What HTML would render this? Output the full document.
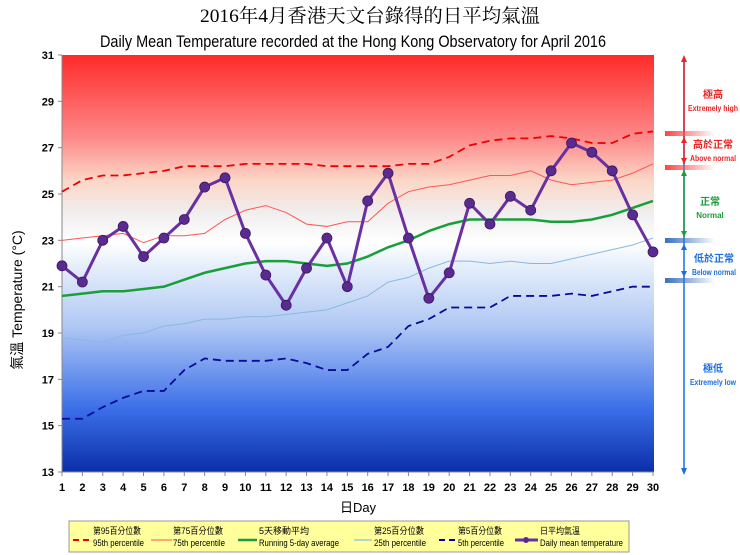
<!DOCTYPE html>
<html><head><meta charset="utf-8"><style>
body{margin:0;background:#fff;width:740px;height:555px;overflow:hidden}
svg{display:block;font-family:"Liberation Sans","Noto Sans CJK TC",sans-serif}
</style></head><body>
<svg id="chart" width="740" height="555">
<defs>
<linearGradient id="bg" x1="0" y1="0" x2="0" y2="1">
<stop offset="0" stop-color="#ff2a2a"/><stop offset="0.2" stop-color="#fd8a8a"/>
<stop offset="0.3" stop-color="#fbd6c6"/><stop offset="0.38" stop-color="#f0eeee"/>
<stop offset="0.45" stop-color="#ffffff"/><stop offset="0.5" stop-color="#e8f0fb"/>
<stop offset="0.65" stop-color="#b0c8f4"/><stop offset="0.85" stop-color="#3a6ee8"/>
<stop offset="1" stop-color="#0a2fa8"/></linearGradient>
<linearGradient id="rb" x1="0" x2="1"><stop offset="0" stop-color="#f44"/><stop offset="1" stop-color="#f44" stop-opacity="0"/></linearGradient>
<linearGradient id="bb" x1="0" x2="1"><stop offset="0" stop-color="#3a6fc0"/><stop offset="1" stop-color="#3a6fc0" stop-opacity="0"/></linearGradient>
</defs>
<text x="370" y="22" text-anchor="middle" font-size="19" textLength="340" lengthAdjust="spacingAndGlyphs" font-family="'Liberation Serif','Noto Serif CJK SC',serif">2016年4月香港天文台錄得的日平均氣溫</text>
<text x="353" y="47" text-anchor="middle" font-size="17" textLength="506" lengthAdjust="spacingAndGlyphs">Daily Mean Temperature recorded at the Hong Kong Observatory for April 2016</text>
<rect x="62" y="55" width="592" height="417" fill="url(#bg)"/>
<g id="axes"></g><g id="series"></g>
<text transform="translate(22,300) rotate(-90)" text-anchor="middle" font-size="14">氣溫 Temperature (°C)</text>
<text x="358" y="512" text-anchor="middle" font-size="13">日Day</text>
<g>
<line x1="684" y1="60" x2="684" y2="470" stroke="#1a6ee0" stroke-width="1.5"/>
<line x1="684" y1="60" x2="684" y2="133" stroke="#e22" stroke-width="1.5"/>
<line x1="684" y1="136" x2="684" y2="164" stroke="#e22" stroke-width="1.5"/>
<line x1="684" y1="170" x2="684" y2="237" stroke="#1a9e3a" stroke-width="1.5"/>
<polygon points="684,55 681,62 687,62" fill="#e22"/>
<polygon points="684,137 681,143 687,143" fill="#e22"/><polygon points="684,164 681,158 687,158" fill="#e22"/>
<polygon points="684,170 681,176 687,176" fill="#1a9e3a"/><polygon points="684,237 681,231 687,231" fill="#1a9e3a"/>
<polygon points="684,244 681,250 687,250" fill="#1a6ee0"/><polygon points="684,277 681,271 687,271" fill="#1a6ee0"/>
<polygon points="684,475 681,468 687,468" fill="#1a6ee0"/>
<rect x="665" y="131" width="50" height="5" fill="url(#rb)"/><rect x="665" y="165" width="50" height="5" fill="url(#rb)"/>
<rect x="665" y="238" width="50" height="5" fill="url(#bb)"/><rect x="665" y="278" width="50" height="5" fill="url(#bb)"/>
<g font-size="10" text-anchor="middle" font-weight="bold">
<text x="713" y="98" fill="#e22">極高</text><text x="713" y="111" fill="#e22" font-size="8" textLength="50" lengthAdjust="spacingAndGlyphs">Extremely high</text>
<text x="713" y="148" fill="#e22">高於正常</text><text x="713" y="161" fill="#e22" font-size="8" textLength="46" lengthAdjust="spacingAndGlyphs">Above normal</text>
<text x="710" y="205" fill="#1a9e3a">正常</text><text x="710" y="218" fill="#1a9e3a" font-size="8">Normal</text>
<text x="714" y="262" fill="#1a6ee0">低於正常</text><text x="714" y="275" fill="#1a6ee0" font-size="8" textLength="44" lengthAdjust="spacingAndGlyphs">Below normal</text>
<text x="713" y="372" fill="#1a6ee0">極低</text><text x="713" y="385" fill="#1a6ee0" font-size="8" textLength="46" lengthAdjust="spacingAndGlyphs">Extremely low</text>
</g></g>
<g>
<rect x="69" y="521" width="560" height="31" fill="#ffff9c" stroke="#999"/>
<g font-size="9" lengthAdjust="spacingAndGlyphs">
<line x1="73" x2="90" y1="540" y2="540" stroke="#e00" stroke-width="2" stroke-dasharray="6,4"/><text x="93" y="534" textLength="48" lengthAdjust="spacingAndGlyphs">第95百分位數</text><text x="93" y="546" textLength="51" lengthAdjust="spacingAndGlyphs">95th percentile</text>
<line x1="151" x2="172" y1="540" y2="540" stroke="#f55" stroke-width="1"/><text x="173" y="534" textLength="50" lengthAdjust="spacingAndGlyphs">第75百分位數</text><text x="173" y="546" textLength="52" lengthAdjust="spacingAndGlyphs">75th percentile</text>
<line x1="238" x2="257" y1="540" y2="540" stroke="#1a9e3a" stroke-width="2.5"/><text x="259" y="534" textLength="50" lengthAdjust="spacingAndGlyphs">5天移動平均</text><text x="259" y="546" textLength="80" lengthAdjust="spacingAndGlyphs">Running 5-day average</text>
<line x1="354" x2="372" y1="540" y2="540" stroke="#9cc" stroke-width="1.5"/><text x="374" y="534" textLength="50" lengthAdjust="spacingAndGlyphs">第25百分位數</text><text x="374" y="546" textLength="52" lengthAdjust="spacingAndGlyphs">25th percentile</text>
<line x1="439" x2="458" y1="540" y2="540" stroke="#00a" stroke-width="2" stroke-dasharray="6,4"/><text x="458" y="534" textLength="44" lengthAdjust="spacingAndGlyphs">第5百分位數</text><text x="458" y="546" textLength="46" lengthAdjust="spacingAndGlyphs">5th percentile</text>
<line x1="515" x2="538" y1="540" y2="540" stroke="#6a2fa0" stroke-width="3"/><circle cx="526" cy="540" r="3" fill="#5a2a90"/><text x="540" y="534" textLength="40" lengthAdjust="spacingAndGlyphs">日平均氣溫</text><text x="540" y="546" textLength="83" lengthAdjust="spacingAndGlyphs">Daily mean temperature</text>
</g></g>
<script>
const days=[1,2,3,4,5,6,7,8,9,10,11,12,13,14,15,16,17,18,19,20,21,22,23,24,25,26,27,28,29,30];
const yTicks=[13,15,17,19,21,23,25,27,29,31];
const dailyMean=[21.9,21.2,23.0,23.6,22.3,23.1,23.9,25.3,25.7,23.3,21.5,20.2,21.8,23.1,21.0,24.7,25.9,23.1,20.5,21.6,24.6,23.7,24.9,24.3,26.0,27.2,26.8,26.0,24.1,22.5];
const p95=[25.1,25.6,25.8,25.8,25.9,26.0,26.2,26.2,26.2,26.3,26.3,26.3,26.3,26.2,26.2,26.2,26.2,26.3,26.3,26.6,27.1,27.3,27.4,27.4,27.5,27.4,27.2,27.2,27.6,27.7];
const p75=[23.0,23.1,23.2,23.3,22.9,23.2,23.2,23.3,23.9,24.3,24.5,24.2,23.7,23.6,23.8,23.8,24.6,25.1,25.3,25.4,25.6,25.8,25.8,26.0,25.6,25.4,25.5,25.6,25.9,26.3];
const avg5=[20.6,20.7,20.8,20.8,20.9,21.0,21.3,21.6,21.8,22.0,22.1,22.1,22.0,21.9,22.0,22.3,22.7,23.0,23.4,23.7,23.9,23.9,23.9,23.9,23.8,23.8,23.9,24.1,24.4,24.7];
const p25=[18.8,18.7,18.6,18.9,19.0,19.3,19.4,19.6,19.6,19.7,19.7,19.8,19.9,20.0,20.3,20.6,21.2,21.4,21.8,22.1,22.1,22.0,22.1,22.0,22.0,22.2,22.4,22.6,22.8,23.1];
const p5=[15.3,15.3,15.8,16.2,16.5,16.5,17.4,17.9,17.8,17.8,17.8,17.9,17.7,17.4,17.4,18.1,18.4,19.3,19.6,20.1,20.1,20.1,20.6,20.6,20.6,20.7,20.6,20.8,21.0,21.0];
const NS="http://www.w3.org/2000/svg";
const X=d=>62+(d-1)*(591/29), Y=v=>55+(31-v)*(417/18);
function mk(t,a,p){const e=document.createElementNS(NS,t);for(const k in a)e.setAttribute(k,a[k]);p.appendChild(e);return e;}
const ax=document.getElementById('axes'), se=document.getElementById('series');
const yl=mk('line',{x1:62,y1:55,x2:62,y2:472,stroke:'#888'},ax);


const xl=mk('line',{x1:62,y1:472,x2:654,y2:472,stroke:'#888'},ax);


yTicks.forEach(v=>{mk('line',{x1:58,x2:62,y1:Y(v),y2:Y(v),stroke:'#888'},ax);
const t=mk('text',{x:54,y:Y(v)+4,'text-anchor':'end','font-size':11,'font-weight':'bold'},ax);t.textContent=v;

});
days.forEach(d=>{mk('line',{x1:X(d),x2:X(d),y1:472,y2:476,stroke:'#888'},ax);
const t=mk('text',{x:X(d),y:491,'text-anchor':'middle','font-size':11,'font-weight':'bold'},ax);t.textContent=d;

});
function line(arr,st,name){const p=mk('polyline',Object.assign({points:arr.map((v,i)=>X(days[i])+','+Y(v)).join(' '),fill:'none'},st),se);

}
line(p5,{stroke:'#0a0a9a','stroke-width':1.8,'stroke-dasharray':'8,5'},'p5-line');
line(p25,{stroke:'#8ab8e0','stroke-width':1},'p25-line');
line(avg5,{stroke:'#1a9e3a','stroke-width':2.5},'avg5-line');
line(p75,{stroke:'#f55','stroke-width':1},'p75-line');
line(p95,{stroke:'#e00','stroke-width':1.8,'stroke-dasharray':'8,5'},'p95-line');
line(dailyMean,{stroke:'#6a2fa0','stroke-width':3},'daily-mean-line');
dailyMean.forEach((v,i)=>{const c=mk('circle',{cx:X(days[i]),cy:Y(v),r:5,fill:'#5a2a90',stroke:'#3a1a60','stroke-width':0.8},se);

});
</script>
</svg></body></html>
